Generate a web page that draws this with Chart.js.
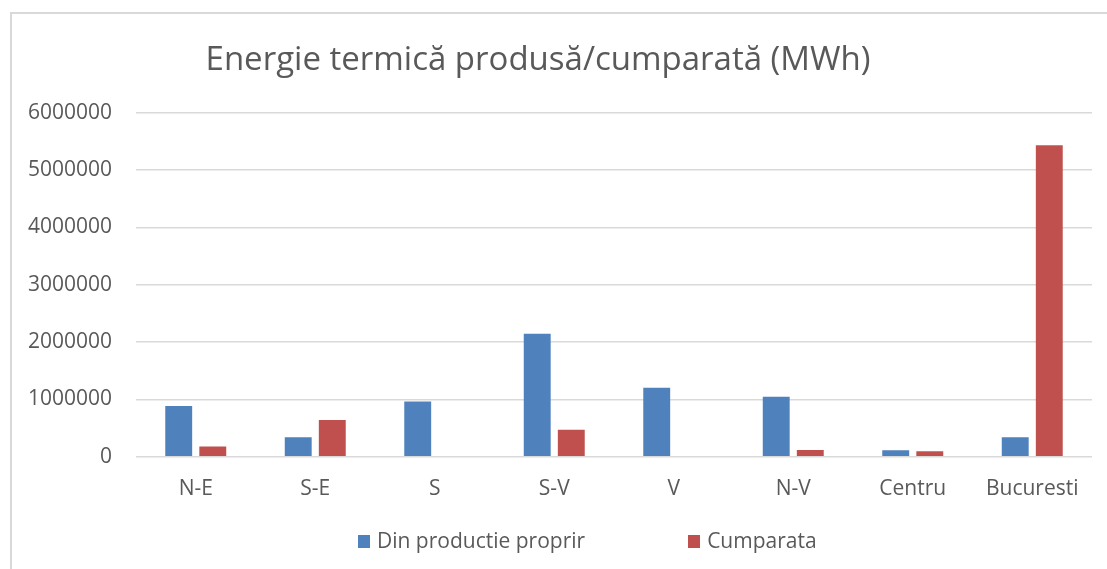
<!DOCTYPE html>
<html lang="ro">
<head>
  <meta charset="UTF-8">
  <script src="https://cdn.jsdelivr.net/npm/chart.js@4.4.0/dist/chart.umd.min.js"></script>
  <title>Energie termica</title>
  <style>
    html, body {
      margin: 0;
      padding: 0;
      background: #fff;
    }
    .frame {
      position: absolute;
      left: 10px;
      top: 12px;
      width: 1097px;
      height: 557px;
      border-top: 2px solid #d9d9d9;
      border-left: 2px solid #d9d9d9;
    }
    .chart-box {
      position: absolute;
      left: 0;
      top: 0;
      width: 1107px;
      height: 569px;
    }
    .legend {
      position: absolute;
      top: 526px;
      left: 358px;
      font-family: "Open Sans", sans-serif;
      font-size: 21px;
      color: #595959;
      white-space: nowrap;
    }
    .legend span.item {
      display: inline-block;
      margin-right: 103px;
    }
    .legend span.box {
      display: inline-block;
      width: 12px;
      height: 13px;
      margin-right: 7px;
    }
  </style>
</head>
<body>
  <div class="frame"></div>
  <div class="chart-box">
    <canvas id="energyChart"></canvas>
  </div>
  <div class="legend" id="legend"></div>

  <script>
    const regions = ['N-E', 'S-E', 'S', 'S-V', 'V', 'N-V', 'Centru', 'Bucuresti'];
    const productieProprie = [884000, 340000, 965000, 2147000, 1205000, 1047000, 112000, 340000];
    const cumparata = [180000, 640000, 15000, 470000, 15000, 118000, 95000, 5433000];
    const seriesNames = ['Din productie proprir', 'Cumparata'];
    const seriesColors = ['#4F81BD', '#C0504D'];

    const textColor = '#595959';
    const fontFamily = '"Open Sans", sans-serif';

    const ctx = document.getElementById('energyChart').getContext('2d');
    const chart = new Chart(ctx, {
      type: 'bar',
      data: {
        labels: regions,
        datasets: [
          {
            label: seriesNames[0],
            data: productieProprie,
            backgroundColor: seriesColors[0],
            categoryPercentage: 0.57,
            barPercentage: 0.79
          },
          {
            label: seriesNames[1],
            data: cumparata,
            backgroundColor: seriesColors[1],
            categoryPercentage: 0.57,
            barPercentage: 0.79
          }
        ]
      },
      options: {
        responsive: true,
        maintainAspectRatio: false,
        animation: false,
        layout: {
          padding: { left: -16, right: 15, top: 41, bottom: 55 }
        },
        plugins: {
          legend: { display: false },
          tooltip: { enabled: false },
          title: {
            display: true,
            text: 'Energie termică produsă/cumparată (MWh)',
            color: textColor,
            font: { family: fontFamily, size: 33, weight: 'normal' },
            padding: { top: 0, bottom: 32 }
          }
        },
        scales: {
          x: {
            grid: { display: false },
            border: { display: false },
            ticks: {
              color: textColor,
              font: { family: fontFamily, size: 21 },
              padding: 12,
              maxRotation: 0
            }
          },
          y: {
            min: 0,
            max: 6000000,
            afterFit(scale) { scale.width = 152; },
            grid: { color: '#d9d9d9', lineWidth: 1.5, drawTicks: false },
            border: { display: false },
            ticks: {
              stepSize: 1000000,
              color: textColor,
              font: { family: fontFamily, size: 21 },
              padding: 24,
              callback: value => String(value)
            }
          }
        }
      }
    });

    // legenda separata, ca in Excel
    const legend = document.getElementById('legend');
    seriesNames.forEach((name, i) => {
      const item = document.createElement('span');
      item.className = 'item';
      item.innerHTML = `<span class="box" style="background:${seriesColors[i]}"></span>${name}`;
      legend.appendChild(item);
    });
  </script>
</body>
</html>
